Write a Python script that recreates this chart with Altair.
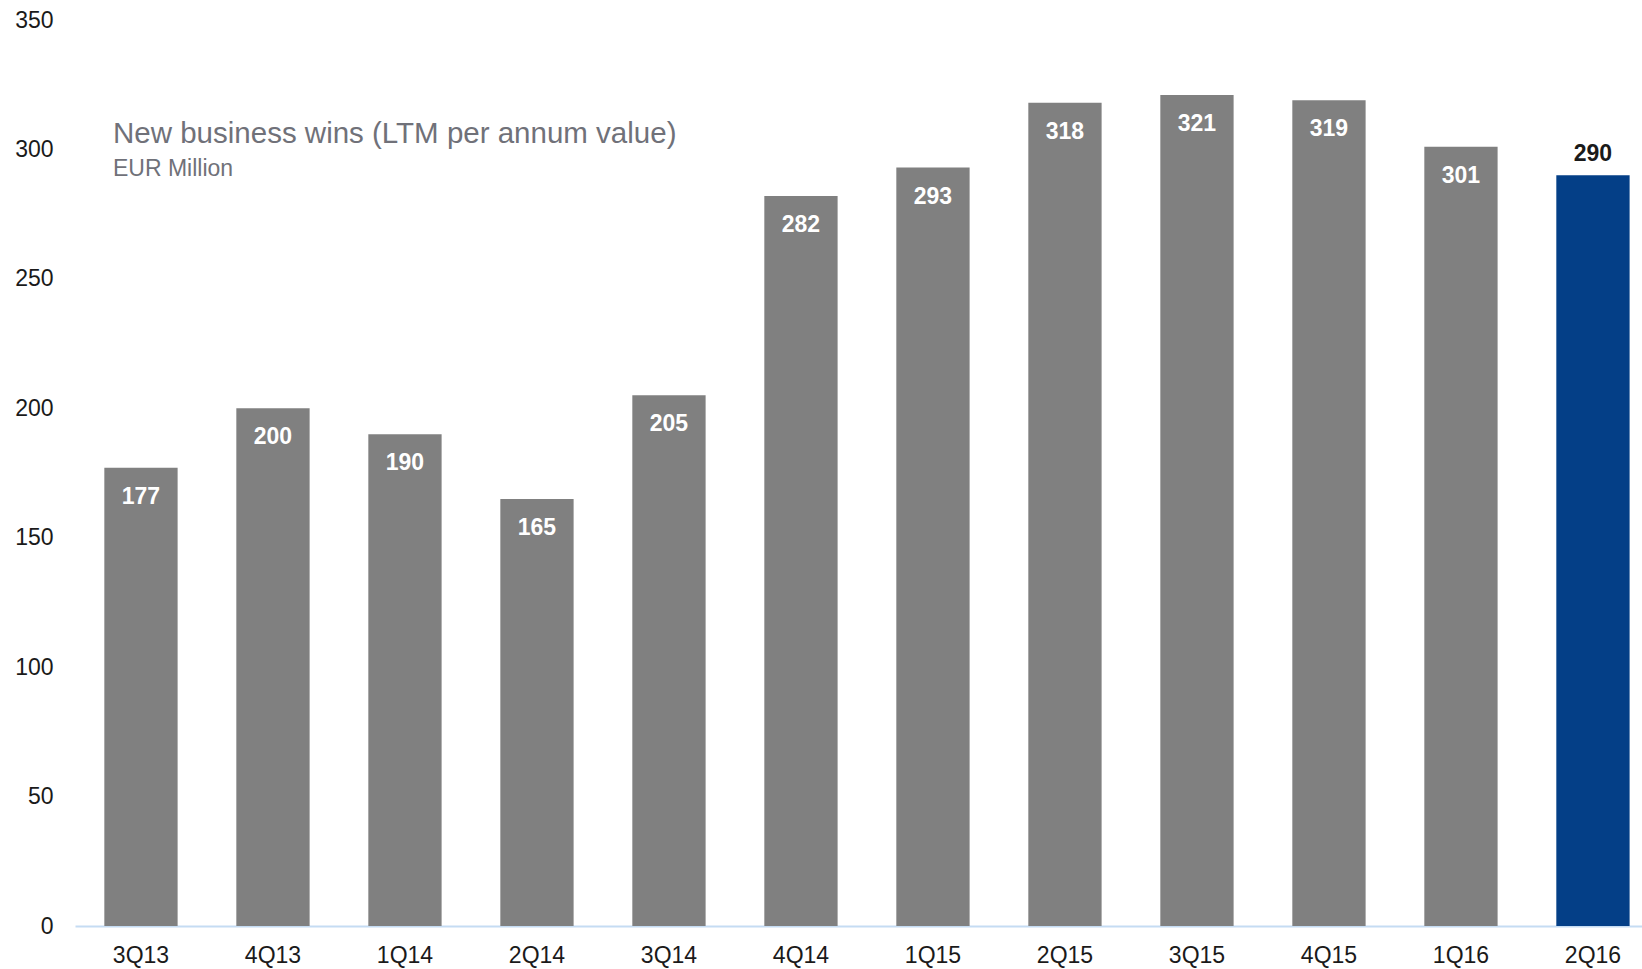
import altair as alt
import pandas as pd

quarters = ["3Q13", "4Q13", "1Q14", "2Q14", "3Q14", "4Q14",
            "1Q15", "2Q15", "3Q15", "4Q15", "1Q16", "2Q16"]
values = [177, 200, 190, 165, 205, 282, 293, 318, 321, 319, 301, 290]
highlight = [False] * 11 + [True]
y_ticks = [0, 50, 100, 150, 200, 250, 300, 350]
title_text = "New business wins (LTM per annum value)"
subtitle_text = "EUR Million"

df = pd.DataFrame({"quarter": quarters, "value": values, "current": highlight})

FONT = "Liberation Sans"

x_enc = alt.X(
    "quarter:N",
    sort=quarters,
    title=None,
    scale=alt.Scale(paddingInner=0.4447, paddingOuter=0.158, align=0.703),
    axis=alt.Axis(
        labelAngle=0, ticks=False, domainColor="#c5dcf3", domainWidth=2,
        labelFont=FONT, labelFontSize=23, labelColor="#1a1a1a",
        labelPadding=18, grid=False,
    ),
)
y_enc = alt.Y(
    "value:Q",
    title=None,
    scale=alt.Scale(domain=[0, 350], nice=False),
    axis=alt.Axis(
        values=y_ticks, ticks=False, domain=False, grid=False,
        labelFont=FONT, labelFontSize=23, labelColor="#1a1a1a",
        labelPadding=22,
    ),
)

base = alt.Chart(df)

bars = base.mark_bar().encode(
    x=x_enc,
    y=y_enc,
    color=alt.Color(
        "current:N",
        scale=alt.Scale(domain=[False, True], range=["#808080", "#043f87"]),
        legend=None,
    ),
)

labels_in = base.transform_filter("!datum.current").mark_text(
    font=FONT, fontSize=23, fontWeight="bold", color="white",
    baseline="middle", dy=29,
).encode(x=alt.X("quarter:N", sort=quarters), y="value:Q", text="value:Q")

labels_out = base.transform_filter("datum.current").mark_text(
    font=FONT, fontSize=23, fontWeight="bold", color="#1a1a1a",
    baseline="middle", dy=-21,
).encode(x=alt.X("quarter:N", sort=quarters), y="value:Q", text="value:Q")

title_df = pd.DataFrame({"t": [title_text]})
sub_df = pd.DataFrame({"t": [subtitle_text]})

title_mark = alt.Chart(title_df).mark_text(
    font=FONT, fontSize=29.5, color="#707179", align="left", baseline="alphabetic",
).encode(x=alt.value(38), y=alt.value(123), text="t:N")

sub_mark = alt.Chart(sub_df).mark_text(
    font=FONT, fontSize=23, color="#707179", align="left", baseline="alphabetic",
).encode(x=alt.value(38), y=alt.value(156), text="t:N")

chart = alt.layer(bars, labels_in, labels_out, title_mark, sub_mark).properties(
    width=1567,
    height=906,
    autosize=alt.AutoSizeParams(type="none"),
    padding={"left": 75, "top": 20, "right": 0, "bottom": 43},
).configure(background="white").configure_view(stroke=None, strokeWidth=0)

chart.save("out.html", embed_options={"renderer": "svg", "actions": False})
